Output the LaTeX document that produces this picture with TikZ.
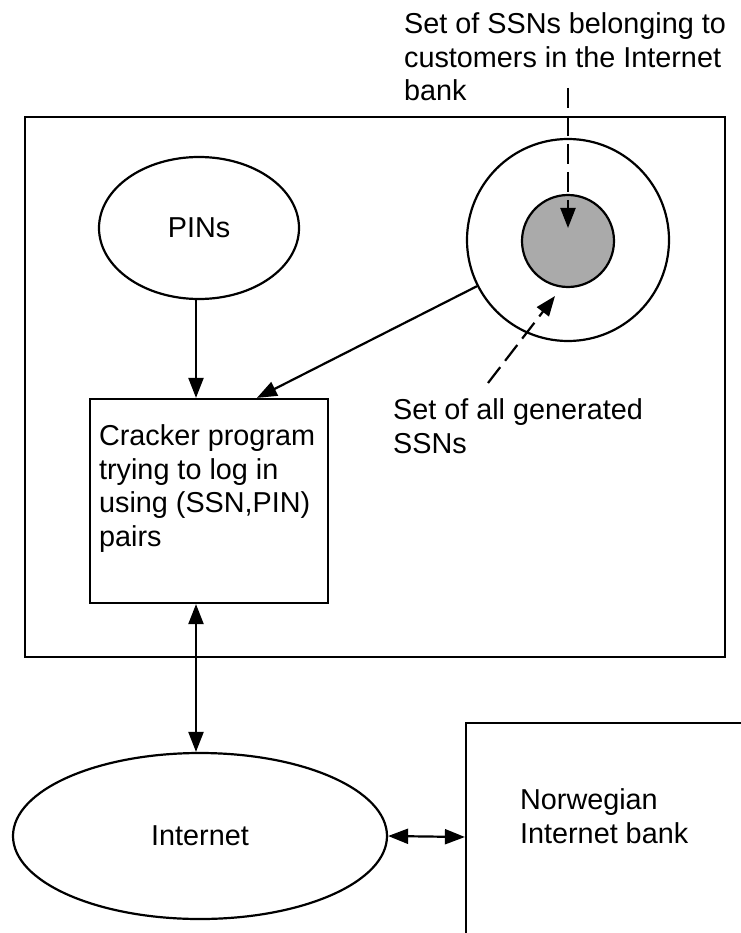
\documentclass[tikz,border=0pt]{standalone}
\usepackage{fontspec}
\setmainfont{Liberation Sans}
\usetikzlibrary{arrows.meta,shapes.geometric}
\begin{document}
\begin{tikzpicture}[x=1pt,y=-1pt,
  line width=2.2pt,
  every node/.style={inner sep=0pt, font=\fontsize{28.8}{33.5}\selectfont},
  frame/.style={draw, line width=2.2pt},
  tip/.style={-{Triangle[length=20pt,width=15pt]}},
  twotips/.style={{Triangle[length=20pt,width=15pt]}-{Triangle[length=20pt,width=15pt]}},
  dashline/.style={dash pattern=on 20pt off 8pt},
  caption/.style={align=left, anchor=north west}]

\useasboundingbox[fill=white] (0,0) rectangle (740,933);

% enclosing frame of the attacker's machine
\node[frame, rectangle, minimum width=700pt, minimum height=540pt] (outer) at (375,387) {};

% PIN generator and the SSN sets
\node[frame, ellipse, minimum width=200pt, minimum height=142pt] (pins) at (199,228) {PINs};
\node[frame, circle, minimum size=202pt] (allssn) at (568,240) {};
\node[frame, circle, minimum size=92pt, fill={rgb,255:red,170;green,170;blue,170}] (custssn) at (568,241) {};

% cracker program
\node[frame, rectangle, minimum width=238pt, minimum height=204pt] (cracker) at (209,501) {};
\node[caption] (crackertext) at (98,424) {Cracker program\\trying to log in\\using (SSN,PIN)\\pairs};

% Internet and the bank
\node[frame, ellipse, minimum width=374pt, minimum height=166pt] (inet) at (200,836) {Internet};
\node[frame, rectangle, minimum width=304pt, minimum height=228pt] (bank) at (618,837) {};
\node[caption] (banktext) at (519,788) {Norwegian\\Internet bank};

% explanatory captions
\node[caption] (custlabel) at (403,12) {Set of SSNs belonging to\\customers in the Internet\\bank};
\node[caption] (alllabel) at (392,398) {Set of all generated\\SSNs};

% pointers from the captions
\coordinate (custfrom) at (568,88);
\coordinate (allfrom) at (488,383);
\coordinate (allto) at (555,296);
\draw[tip, dashline] (custfrom) -- ([yshift=13pt]custssn.center);
\draw[tip, dashline] (allfrom) -- (allto);

% data flow
\draw[tip] ([xshift=-3pt]pins.south) -- ([xshift=-3pt]pins.south |- cracker.north);
\draw[tip] (allssn) -- ([xshift=168pt]cracker.north west);
\draw[twotips] ([xshift=-13pt]cracker.south) -- ([xshift=-13pt]cracker.south |- inet.north);
\draw[twotips] (inet.east) -- (bank.west);
\end{tikzpicture}
\end{document}
